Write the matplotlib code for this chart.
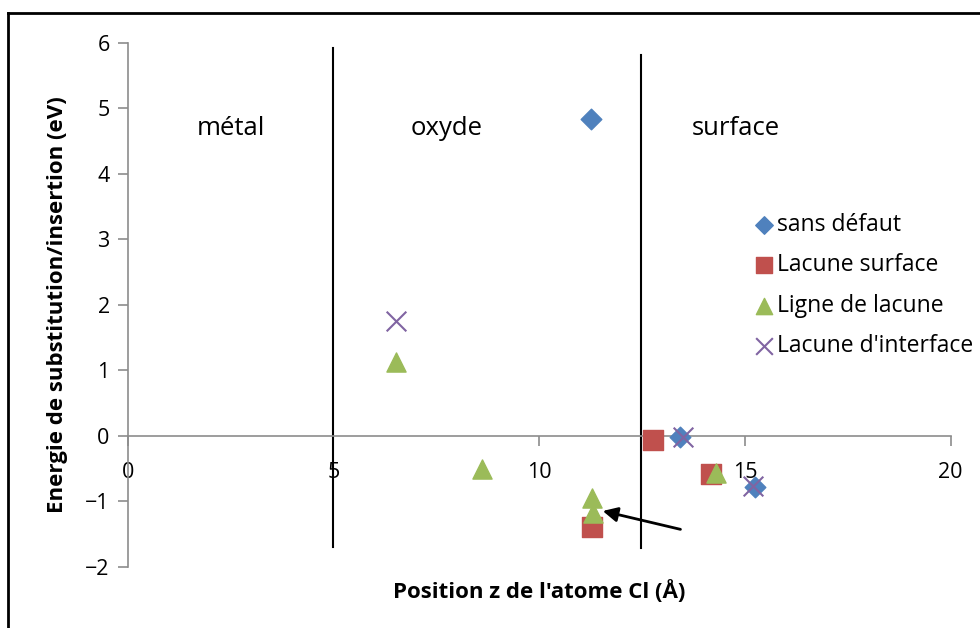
import matplotlib
matplotlib.use("Agg")
import matplotlib.pyplot as plt
from matplotlib.lines import Line2D

plt.rcParams['font.family'] = ['Open Sans', 'DejaVu Sans']

# series data (z in Angstrom, energy in eV)
sans_x = [11.26, 13.43, 15.25]
sans_y = [4.84, -0.02, -0.78]
surf_x = [12.77, 14.18, 11.29]
surf_y = [-0.07, -0.58, -1.40]
ligne_x = [6.52, 8.61, 11.29, 11.31, 14.31]
ligne_y = [1.13, -0.51, -0.95, -1.18, -0.57]
inter_x = [6.52, 13.50, 15.20]
inter_y = [1.75, -0.02, -0.77]

# region separators and labels
sep_x = [5.0, 12.48]
sep_top = [5.92, 5.82]
sep_bot = [-1.70, -1.72]
regions = ['métal', 'oxyde', 'surface']
region_x = [2.52, 7.74, 14.77]
region_y = 4.70

fig = plt.figure(figsize=(9.8, 6.28), dpi=100)
ax = fig.add_axes([0.1303, 0.0977, 0.8397, 0.8338])

ax.scatter(sans_x, sans_y, marker='D', s=110, color='#4F81BD', label='sans défaut', zorder=3)
ax.scatter(surf_x, surf_y, marker='s', s=200, color='#C0504D', label='Lacune surface', zorder=3)
ax.scatter(ligne_x, ligne_y, marker='^', s=190, color='#9BBB59', label='Ligne de lacune', zorder=4)
ax.scatter(inter_x, inter_y, marker='x', s=200, color='#8064A2', linewidths=1.5,
           label="Lacune d'interface", zorder=5)

for x, t, b in zip(sep_x, sep_top, sep_bot):
    ax.plot([x, x], [b, t], color='black', lw=1.5, zorder=2)

for name, x in zip(regions, region_x):
    ax.text(x, region_y, name, ha='center', va='center', fontsize=18.5)

ax.annotate('', xy=(11.48, -1.14), xytext=(13.5, -1.44),
            arrowprops=dict(arrowstyle='-|>', color='black', lw=2, mutation_scale=22))

ax.set_xlim(0, 20)
ax.set_ylim(-2, 6)
ax.set_xticks([0, 5, 10, 15, 20])
ax.set_yticks(range(-2, 7))
ax.spines['top'].set_visible(False)
ax.spines['right'].set_visible(False)
ax.spines['bottom'].set_position(('data', 0))
for s in ['left', 'bottom']:
    ax.spines[s].set_color('#8c8c8c')
    ax.spines[s].set_linewidth(1.2)
ax.tick_params(axis='both', colors='#8c8c8c', length=7, width=1.2, labelsize=15.5,
               labelcolor='black')
ax.tick_params(axis='x', pad=12)
ax.tick_params(axis='y', pad=6)

ax.set_xlabel("Position z de l'atome Cl (Å)", fontsize=16, fontweight='bold')
ax.xaxis.set_label_coords(0.5, -0.025)
ax.set_ylabel('Energie de substitution/insertion (eV)', fontsize=16, fontweight='bold')
ax.yaxis.set_label_coords(-0.072, 0.5)

ax.legend(loc='upper left', bbox_to_anchor=(0.7485, 0.693), frameon=False, fontsize=16.5,
          handletextpad=0.05, labelspacing=0.72, borderaxespad=0, handlelength=1.0,
          markerscale=0.85)

# outer frame (left and top edges)
fig.add_artist(Line2D([0.0082, 0.0082], [0, 0.979], color='black', lw=2))
fig.add_artist(Line2D([0.0082, 1.0], [0.979, 0.979], color='black', lw=2))

fig.savefig('out.png', dpi=100)
